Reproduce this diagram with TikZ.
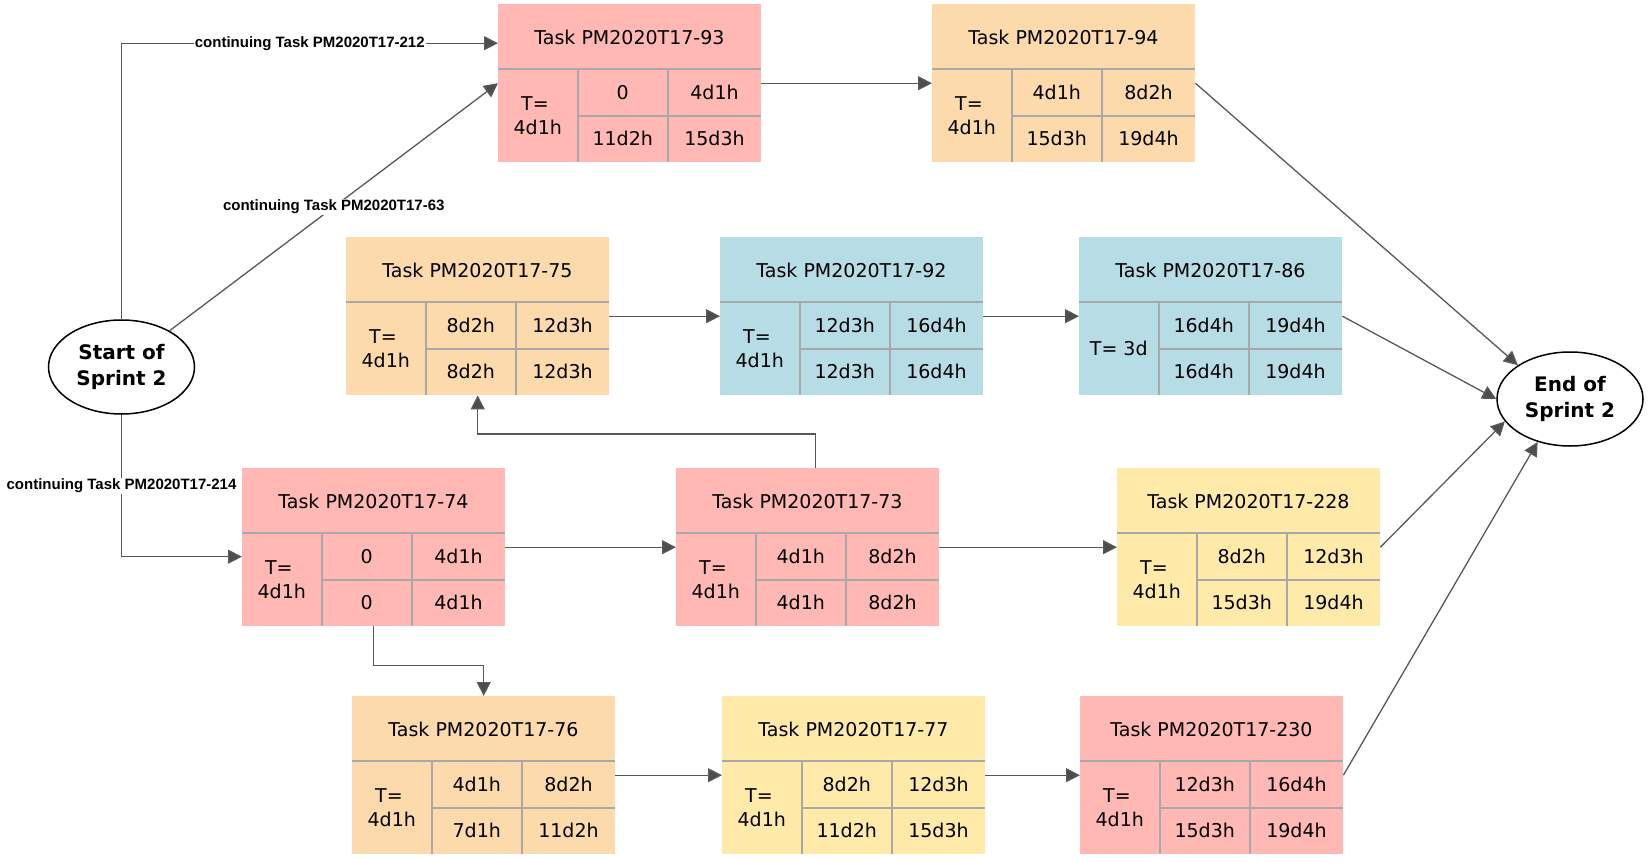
\documentclass[tikz,border=0pt]{standalone}
\usepackage{fontspec}
\setmainfont{DejaVu Sans}
\newfontfamily\labelfont{Liberation Sans}
\usetikzlibrary{arrows.meta,shapes.geometric}

\definecolor{taskred}{RGB}{255,184,179}
\definecolor{taskorange}{RGB}{252,218,171}
\definecolor{taskblue}{RGB}{182,220,230}
\definecolor{taskyellow}{RGB}{255,234,170}
\definecolor{gridgray}{RGB}{168,168,168}
\definecolor{linkgray}{RGB}{88,88,88}
\definecolor{tipgray}{RGB}{77,77,77}

% one task: name, top left corner, fill, title, duration, ES, EF, LS, LF
\newcommand{\taskbox}[9]{%
  \node[taskrect, fill=#3] (#1) at #2 {};
  \begin{scope}[shift={(#1.north west)}]
    \draw[gridline] (0,65) -- (263,65) (79.5,65) -- (79.5,158) (170,65) -- (170,158) (79.5,111.5) -- (263,111.5);
    \node[celltext] (#1-title) at (131.5,33) {#4};
    \node[celltext, align=center] (#1-dur) at (39.75,111.5) {#5};
    \node[celltext] (#1-es) at (124.75,88.25) {#6};
    \node[celltext] (#1-ef) at (216.5,88.25) {#7};
    \node[celltext] (#1-ls) at (124.75,134.75) {#8};
    \node[celltext] (#1-lf) at (216.5,134.75) {#9};
  \end{scope}}

\begin{document}
\begin{tikzpicture}[x=1pt,y=1pt,yscale=-1,xscale=1,
  taskrect/.style={rectangle, anchor=north west, inner sep=0pt, minimum width=263pt, minimum height=158pt},
  gridline/.style={draw=gridgray, line width=2pt},
  celltext/.style={inner sep=0pt, font=\fontsize{19}{24}\selectfont},
  event/.style={ellipse, draw=black, line width=1.5pt, fill=white, inner sep=0pt, minimum width=146pt, minimum height=94pt, align=center, font=\fontsize{20}{26}\selectfont\bfseries},
  link/.style={draw=linkgray, line width=1.3pt, -{Triangle[length=14pt, width=14pt, fill=tipgray]}},
  linklabel/.style={fill=white, inner sep=1pt, font=\labelfont\fontsize{15}{17}\selectfont\bfseries}]
\useasboundingbox (0,0) rectangle (1652,862);

%Shape: Ellipse [start]
\node[event] (start) at (121.5,367) {Start of\\Sprint 2};
%Shape: Ellipse [end]
\node[event] (end) at (1570,399) {End of\\Sprint 2};

%Shape: Tasks, top row
\taskbox{t93}{(498,4)}{taskred}{Task PM2020T17-93}{T=\hspace*{0.3em}\\4d1h}{0}{4d1h}{11d2h}{15d3h}
\taskbox{t94}{(932,4)}{taskorange}{Task PM2020T17-94}{T=\hspace*{0.3em}\\4d1h}{4d1h}{8d2h}{15d3h}{19d4h}
%Shape: Tasks, second row
\taskbox{t75}{(346,237)}{taskorange}{Task PM2020T17-75}{T=\hspace*{0.3em}\\4d1h}{8d2h}{12d3h}{8d2h}{12d3h}
\taskbox{t92}{(720,237)}{taskblue}{Task PM2020T17-92}{T=\hspace*{0.3em}\\4d1h}{12d3h}{16d4h}{12d3h}{16d4h}
\taskbox{t86}{(1079,237)}{taskblue}{Task PM2020T17-86}{T= 3d}{16d4h}{19d4h}{16d4h}{19d4h}
%Shape: Tasks, third row
\taskbox{t74}{(242,468)}{taskred}{Task PM2020T17-74}{T=\hspace*{0.3em}\\4d1h}{0}{4d1h}{0}{4d1h}
\taskbox{t73}{(676,468)}{taskred}{Task PM2020T17-73}{T=\hspace*{0.3em}\\4d1h}{4d1h}{8d2h}{4d1h}{8d2h}
\taskbox{t228}{(1117,468)}{taskyellow}{Task PM2020T17-228}{T=\hspace*{0.3em}\\4d1h}{8d2h}{12d3h}{15d3h}{19d4h}
%Shape: Tasks, bottom row
\taskbox{t76}{(352,696)}{taskorange}{Task PM2020T17-76}{T=\hspace*{0.3em}\\4d1h}{4d1h}{8d2h}{7d1h}{11d2h}
\taskbox{t77}{(722,696)}{taskyellow}{Task PM2020T17-77}{T=\hspace*{0.3em}\\4d1h}{8d2h}{12d3h}{11d2h}{15d3h}
\taskbox{t230}{(1080,696)}{taskred}{Task PM2020T17-230}{T=\hspace*{0.3em}\\4d1h}{12d3h}{16d4h}{15d3h}{19d4h}

%Straight Lines [from start]
\coordinate (in212) at ([yshift=-40pt]t93.west);
\coordinate (in214) at ([yshift=9.5pt]t74.west);
\draw[link] (start.north) |- (in212) node[linklabel, pos=0.75] (lab212) {continuing Task PM2020T17-212};
\draw[link] (start) -- (t93.west) node[linklabel, pos=0.5] (lab63) {continuing Task PM2020T17-63};
\draw[link] (start.south) |- (in214) node[linklabel, pos=0.25] (lab214) {continuing Task PM2020T17-214};

%Straight Lines [between tasks]
\draw[link] (t93.east) -- (t94.west);
\draw[link] (t75.east) -- (t92.west);
\draw[link] (t92.east) -- (t86.west);
\draw[link] (t74.east) -- (t73.west);
\draw[link] (t73.east) -- (t228.west);
\draw[link] (t76.east) -- (t77.west);
\draw[link] (t77.east) -- (t230.west);
\draw[link] ([xshift=7.5pt]t73.north) -- ++(0,-34) -| (t75.south);
\draw[link] (t74.south) -- ++(0,39) -| (t76.north);

%Straight Lines [to end]
\draw[link] (t94.east) -- (end.147);
\draw[link] (t86.east) -- (end.west);
\draw[link] (t228.east) -- (end.199);
\draw[link] (t230.east) -- (end.233);

\end{tikzpicture}
\end{document}
